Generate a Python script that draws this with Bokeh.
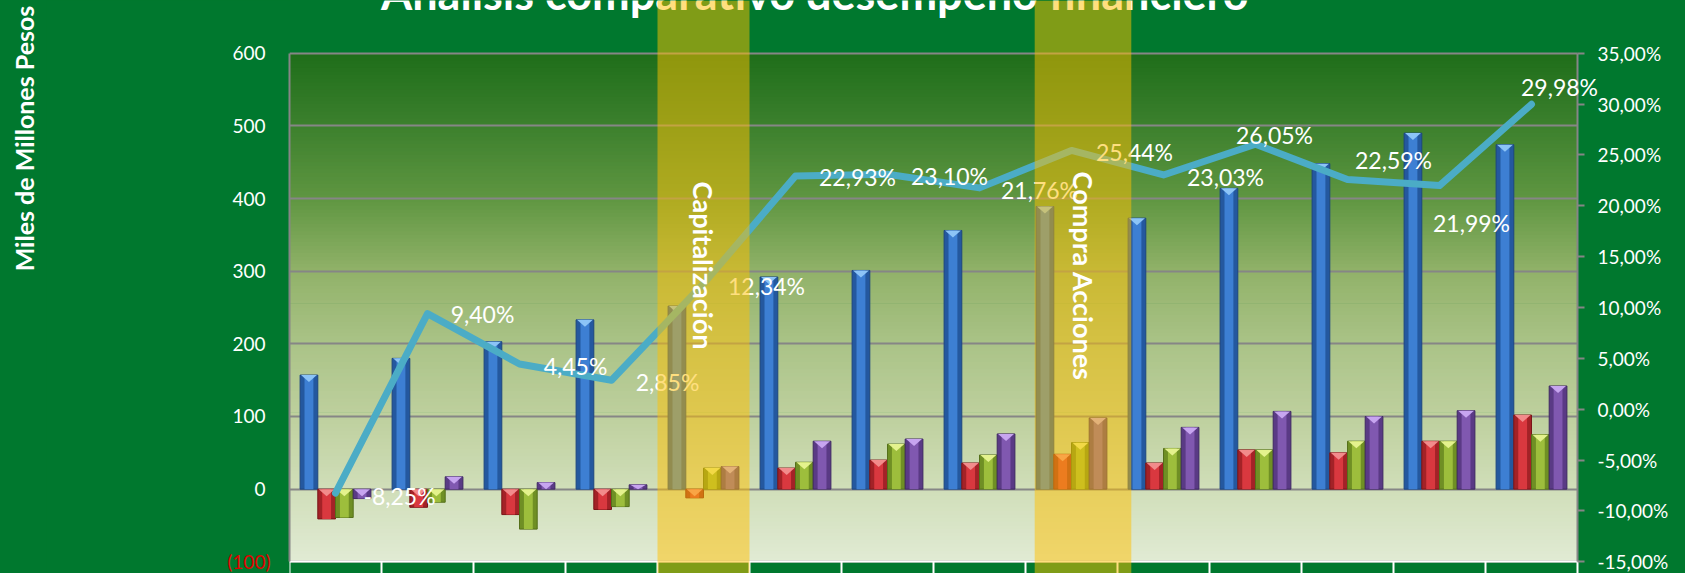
import numpy as np
from bokeh.plotting import figure
from bokeh.layouts import row
from bokeh.models import (Range1d, LinearAxis, FixedTicker, CustomJSTickFormatter, Grid,
                          ColumnDataSource, LabelSet, Label, BoxAnnotation)
from bokeh.core.properties import value
from bokeh.embed import file_html
from bokeh.resources import INLINE

# ---------------- data ----------------
title_text = "Análisis comparativo desempeño financiero"
y_axis_title = "Miles de Millones Pesos"
periods = list(range(1, 15))
serie_azul = [157, 180, 203, 233, 252, 292, 301, 356, 389, 373, 414, 448, 490, 474]
serie_roja = [-41, -25, -35, -28, -12, 29, 40, 36, 48, 36, 54, 50, 66, 102]
serie_verde = [-39, -18, -55, -24, 29, 37, 62, 47, 64, 56, 54, 66, 66, 75]
serie_morada = [-13, 17, 9, 6, 31, 66, 69, 76, 98, 85, 107, 100, 108, 142]
rentabilidad = [-8.25, 9.40, 4.45, 2.85, 12.34, 22.93, 23.10, 21.76, 25.44, 23.03, 26.05, 22.59, 21.99, 29.98]
left_ticks = [0, 100, 200, 300, 400, 500, 600]
neg_ticks = [-100]
grid_ticks = [-100, 0, 100, 200, 300, 400, 500, 600]
right_ticks = [-15, -10, -5, 0, 5, 10, 15, 20, 25, 30, 35]
eventos = ["Capitalización", "Compra  Acciones"]

# ---------------- layout / style ----------------
BG = "#00782E"
GRID = "#868686"
W_T = 46                 # narrow strip holding the vertical axis title
W, H = 1685 - W_T, 573
ML = 289 - W_T
PX_X = 92.0
N = len(periods)
X_MAX = N + (W - ML - N * PX_X) / PX_X
Y_MIN, Y_MAX = -116.1, 672.53
P_MIN, P_MAX = -16.15, 40.181
PX_Y = H / (Y_MAX - Y_MIN)
PX_P = H / (P_MAX - P_MIN)

# label offsets in pixels (right, down)
label_dx = [64, 55, 56, 56, 63, 62, 62, 60, 63, 62, 19, 46, 32, 28]
label_dy = [3, 0, 2, 2, 2, 1, 2, 2, 2, 2, -9, -19, 37, -17]
band_left = [4.0, 8.1]
band_right = [5.0, 9.15]
event_y = [Y_MAX - 265.0 / PX_Y, Y_MAX - 279.0 / PX_Y]

# ---------------- axis-title strip ----------------
t = figure(width=W_T, height=H, x_range=Range1d(0, W_T), y_range=Range1d(H, 0),
           x_axis_location=None, y_axis_location=None, output_backend="svg",
           toolbar_location=None, min_border_left=0, min_border_right=0, min_border_top=0,
           min_border_bottom=0, background_fill_color=BG, border_fill_color=BG,
           outline_line_color=None)
t.center = [c for c in t.center if not isinstance(c, Grid)]
t.add_layout(Label(x=23, y=138, text=y_axis_title, angle=np.pi / 2, text_color="white",
                   text_font="Lato", text_font_style="bold", text_font_size="25px",
                   text_align="center", text_baseline="middle"))

# ---------------- main chart ----------------
p = figure(width=W, height=H, x_range=Range1d(0, X_MAX), y_range=Range1d(Y_MIN, Y_MAX),
           x_axis_location=None, y_axis_location=None,
           output_backend="svg", toolbar_location=None,
           min_border_left=ML, min_border_right=0, min_border_top=0, min_border_bottom=0,
           background_fill_color=BG, border_fill_color=BG, outline_line_color=None)
p.center = [c for c in p.center if not isinstance(c, Grid)]
p.extra_y_ranges = {"pct": Range1d(P_MIN, P_MAX)}

# plot-area gradient background (style only)
stops_v = [-100, 0, 100, 200, 300, 400, 500, 600]
stops_c = [(225, 235, 212), (208, 222, 185), (190, 208, 158), (170, 195, 135),
           (145, 178, 105), (95, 150, 65), (60, 128, 45), (30, 110, 26)]
edges = np.arange(-100, 600, 5.0)
g_bottom, g_top, g_col = [], [], []
for e in edges:
    mid = e + 2.5
    rgb = [int(round(np.interp(mid, stops_v, [c[j] for c in stops_c]))) for j in range(3)]
    g_bottom.append(e)
    g_top.append(min(e + 6.0, 600))
    g_col.append("#%02x%02x%02x" % tuple(rgb))
gr = p.quad(left=0, right=N, bottom=g_bottom, top=g_top, fill_color=g_col, line_color=None)
gr.level = "image"

p.add_layout(Grid(dimension=1, ticker=FixedTicker(ticks=grid_ticks), grid_line_color=GRID,
                  grid_line_width=2))
# plain background to the right of the plot area (hides grid beyond the last period)
p.quad(left=N, right=X_MAX + 1, bottom=Y_MIN - 50, top=Y_MAX + 50, fill_color=BG, line_color=None)

# ---------------- axes ----------------
ax_in = LinearAxis(ticker=FixedTicker(ticks=left_ticks), bounds=(-100, 600),
                   axis_line_color=GRID, axis_line_width=2,
                   major_tick_line_color=None, minor_tick_line_color=None,
                   major_tick_out=0, major_tick_in=0, major_label_standoff=24,
                   major_label_text_color="white", major_label_text_font="Lato",
                   major_label_text_font_size="19px")
p.add_layout(ax_in, "left")
ax_neg = LinearAxis(ticker=FixedTicker(ticks=neg_ticks),
                    formatter=CustomJSTickFormatter(code="return '(' + Math.abs(tick).toFixed(0) + ')';"),
                    axis_line_color=None, major_tick_line_color=None, minor_tick_line_color=None,
                    major_tick_out=0, major_tick_in=0, major_label_standoff=-41,
                    major_label_text_color="#E00000", major_label_text_font="Lato",
                    major_label_text_font_size="19px")
p.add_layout(ax_neg, "left")

ax_r = LinearAxis(y_range_name="pct", fixed_location=N, ticker=FixedTicker(ticks=right_ticks),
                  bounds=(-15, 35),
                  formatter=CustomJSTickFormatter(code="return tick.toFixed(2).replace('.', ',') + '%';"),
                  axis_line_color=GRID, axis_line_width=2, major_tick_line_color=GRID,
                  major_tick_line_width=2, major_tick_out=7, major_tick_in=0,
                  minor_tick_line_color=None, major_label_standoff=13,
                  major_label_text_color="white", major_label_text_font="Lato",
                  major_label_text_font_size="19px")
p.add_layout(ax_r, "right")

ax_x = LinearAxis(ticker=FixedTicker(ticks=list(range(N + 1))), fixed_location=-100,
                  bounds=(0, N), formatter=CustomJSTickFormatter(code="return '';"),
                  axis_line_color="white", axis_line_width=2, major_tick_line_color="white",
                  major_tick_line_width=2, major_tick_out=14, major_tick_in=0,
                  minor_tick_line_color=None)
p.add_layout(ax_x, "below")

# ---------------- bars ----------------
idx = np.arange(N)
cx = idx + 0.5
BW = 17.7 / PX_X
TRI = 7.0 / PX_Y
series = [
    (serie_azul, "#24589f", "#3d7fd3", "#8cc4f7", "#1d4680"),
    (serie_roja, "#a32227", "#d9383f", "#f28b8b", "#7a1518"),
    (serie_verde, "#6f8f24", "#9dbe3c", "#e4f28d", "#55701a"),
    (serie_morada, "#5a3a85", "#8058b0", "#c7a5f0", "#3f2863"),
]
for k, (vals, dark, main, tri, edge) in enumerate(series):
    v = np.array(vals, dtype=float)
    xs = cx + (k - 1.5) * BW
    top = np.maximum(v, 0)
    bot = np.minimum(v, 0)
    p.vbar(x=xs, top=top, bottom=bot, width=BW, fill_color=dark, line_color=edge, line_width=1)
    p.vbar(x=xs, top=top, bottom=bot, width=BW * 0.5, fill_color=main, line_color=None)
    depth = np.minimum(TRI, np.abs(v))
    txs = [[x - BW * 0.45, x + BW * 0.45, x] for x in xs]
    tys = [[tp, tp, tp - d] for tp, d in zip(top, depth)]
    p.patches(txs, tys, fill_color=tri, line_color=None)

# ---------------- line ----------------
p.line(cx, rentabilidad, y_range_name="pct", line_color="#4BACC6", line_width=7,
       line_join="round", line_cap="round")

# ---------------- labels ----------------
lab_src = ColumnDataSource(dict(
    x=cx + np.array(label_dx) / PX_X,
    y=np.array(rentabilidad) - np.array(label_dy) / PX_P,
    t=[("%.2f" % v).replace(".", ",") + "%" for v in rentabilidad]))
p.add_layout(LabelSet(x="x", y="y", text="t", source=lab_src, y_range_name="pct",
                      text_color="white", text_font=value("Lato"), text_font_size="23px",
                      text_align="center", text_baseline="middle"))

p.add_layout(Label(x=(814.3 - 289) / PX_X, y=Y_MAX + 8.0 / PX_Y, text=title_text,
                   text_color="white", text_font="Lato",
                   text_font_style="bold", text_font_size="45px", text_align="center",
                   text_baseline="alphabetic"))

for l, r in zip(band_left, band_right):
    p.add_layout(BoxAnnotation(left=l, right=r, fill_color="#FFC000", fill_alpha=0.5,
                               line_color=None))

ev_src = ColumnDataSource(dict(x=[(l + r) / 2 for l, r in zip(band_left, band_right)],
                               y=event_y, t=eventos))
p.add_layout(LabelSet(x="x", y="y", text="t", source=ev_src, angle=-np.pi / 2,
                      text_color="white", text_font=value("Lato"), text_font_style="bold",
                      text_font_size="27px", text_align="center", text_baseline="middle"))

layout = row(t, p, spacing=0)
html = file_html(layout, INLINE, title="Análisis comparativo desempeño financiero")
html = html.replace("<head>", "<head><style>html,body{margin:0 !important;padding:0 !important;"
                    "background-color:#00782E;overflow:hidden;}</style>", 1)
open("out.html", "w").write(html)
